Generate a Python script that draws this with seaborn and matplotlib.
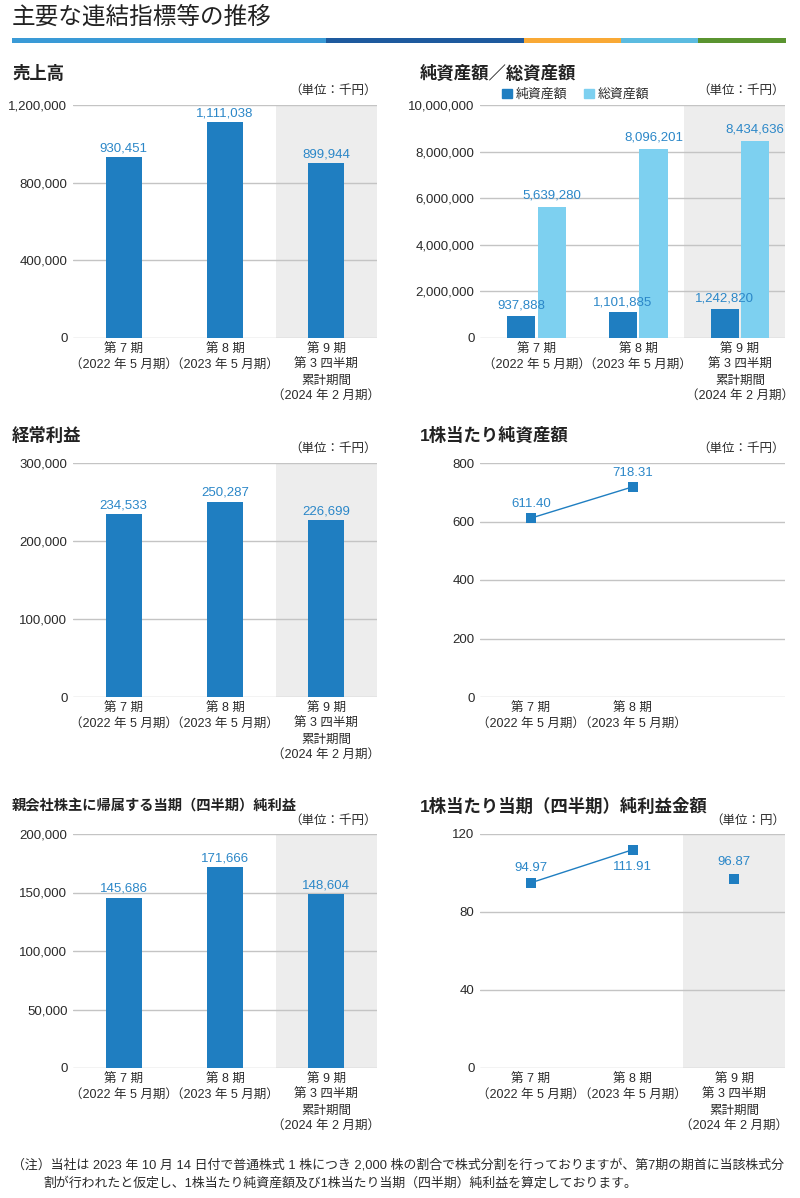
import numpy as np
import pandas as pd
import matplotlib
matplotlib.use('Agg')
import matplotlib.pyplot as plt
import seaborn as sns
from matplotlib.patches import Patch, Rectangle
from matplotlib.ticker import FuncFormatter

# ---------------- data ----------------
periods = ['第7期', '第8期', '第9期']
xlabels = ['第 7 期\n（2022 年 5 月期）',
           '第 8 期\n（2023 年 5 月期）',
           '第 9 期\n第 3 四半期\n累計期間\n（2024 年 2 月期）']
sales = [930451, 1111038, 899944]
net_assets = [937888, 1101885, 1242820]
total_assets = [5639280, 8096201, 8434636]
ordinary_profit = [234533, 250287, 226699]
net_income = [145686, 171666, 148604]
bps = [611.40, 718.31]
eps = [94.97, 111.91, 96.87]
eps_labels = ['94.97', '111.91', '96.87']
bps_labels = ['611.40', '718.31']

DARK = '#1f7ec1'
LIGHT = '#7dd0f0'
LABEL = '#2b87c8'
SHADE = '#ededed'
GRID = '#c4c4c4'
TXT = '#2a2a2a'

sns.set_theme(style='white')
plt.rcParams['font.family'] = ['Liberation Sans', 'Noto Sans CJK JP', 'DejaVu Sans']
plt.rcParams['axes.unicode_minus'] = False

W, H = 800, 1198
fig = plt.figure(figsize=(W / 100, H / 100), dpi=100)


def axes_px(l, t, r, b):
    return fig.add_axes([l / W, 1 - b / H, (r - l) / W, (b - t) / H])


def ftext(x, y, s, **kw):
    return fig.text(x / W, 1 - y / H, s, **kw)


def style(ax, ymax, step, xlim=(-0.5, 2.5), shade=None, comma=True, xt=(0, 1, 2)):
    ax.set_ylim(0, ymax)
    ax.set_xlim(*xlim)
    ax.set_yticks(np.arange(0, ymax + step / 2, step))
    if comma:
        ax.yaxis.set_major_formatter(FuncFormatter(lambda v, p: f'{int(v):,}'))
    else:
        ax.yaxis.set_major_formatter(FuncFormatter(lambda v, p: f'{int(v)}'))
    ax.set_xticks(list(xt))
    ax.set_xticklabels([xlabels[i] for i in xt], fontsize=9, color=TXT)
    for lab in ax.get_xticklabels():
        lab.set_linespacing(1.38)
    ax.tick_params(axis='y', labelsize=9.5, labelcolor=TXT, length=0, pad=4)
    ax.tick_params(axis='x', length=0, pad=4)
    for s in ax.spines.values():
        s.set_visible(False)
    ax.set_axisbelow(True)
    ax.yaxis.grid(True, color=GRID, linewidth=1)
    ax.xaxis.grid(False)
    ax.set_xlabel('')
    ax.set_ylabel('')
    ax.set_facecolor('none')
    if shade is not None:
        ax.axvspan(shade, xlim[1], color=SHADE, zorder=0, lw=0)


def bar_labels(ax, xs, vals, fmt='{:,}', off=2):
    for x, v in zip(xs, vals):
        ax.annotate(fmt.format(v), (x, v), xytext=(0, off), textcoords='offset points',
                    ha='center', va='bottom', fontsize=9.5, color=LABEL)


# ---------------- header ----------------
ftext(12, 18, '主要な連結指標等の推移', fontsize=17, va='center', ha='left', color='#222222')
segs = [(12, 326, '#3a9ad6'), (326, 524, '#1e5a9e'), (524, 621, '#f9a935'),
        (621, 698, '#5bbbe0'), (698, 786, '#5a9430')]
for x0, x1, c in segs:
    fig.add_artist(Rectangle((x0 / W, 1 - 43 / H), (x1 - x0) / W, 5 / H,
                             transform=fig.transFigure, color=c, lw=0))

# ---------------- panel 1: 売上高 ----------------
ax1 = axes_px(73, 105, 377, 338)
sns.barplot(x=periods, y=sales, ax=ax1, color=DARK, width=0.355, saturation=1, linewidth=0)
style(ax1, 1200000, 400000, shade=1.5)
bar_labels(ax1, range(3), sales)
ftext(12, 73, '売上高', fontsize=12.5, fontweight='bold', va='center', color='#222222')
ftext(377, 91, '（単位：千円）', fontsize=9, ha='right', va='center', color=TXT)

# ---------------- panel 2: 純資産額／総資産額 ----------------
ax2 = axes_px(480, 105, 785, 338)
df2 = pd.DataFrame({'期': periods * 2,
                    '種類': ['純資産額'] * 3 + ['総資産額'] * 3,
                    '値': net_assets + total_assets})
sns.barplot(data=df2, x='期', y='値', hue='種類', palette=[DARK, LIGHT], width=0.6,
            gap=0.08, saturation=1, ax=ax2, legend=False, linewidth=0)
style(ax2, 10000000, 2000000, xlim=(-0.556, 2.443), shade=1.45)
bar_labels(ax2, [i - 0.15 for i in range(3)], net_assets, off=3)
bar_labels(ax2, [i + 0.15 for i in range(3)], total_assets, off=4)
ftext(420, 73, '純資産額／総資産額', fontsize=12.5, fontweight='bold', va='center', color='#222222')
ftext(785, 91, '（単位：千円）', fontsize=9, ha='right', va='center', color=TXT)
leg = ax2.legend(handles=[Patch(color=DARK, label='純資産額'), Patch(color=LIGHT, label='総資産額')],
                 ncol=2, frameon=False, fontsize=9.3, handlelength=0.75, handleheight=0.75,
                 handletextpad=0.3, columnspacing=1.3, loc='center left',
                 bbox_to_anchor=(502 / W, 1 - 95 / H), bbox_transform=fig.transFigure,
                 borderaxespad=0, borderpad=0)
for t in leg.get_texts():
    t.set_color(TXT)

# ---------------- panel 3: 経常利益 ----------------
ax3 = axes_px(73, 463, 377, 697)
sns.barplot(x=periods, y=ordinary_profit, ax=ax3, color=DARK, width=0.355, saturation=1, linewidth=0)
style(ax3, 300000, 100000, shade=1.5)
bar_labels(ax3, range(3), ordinary_profit)
ftext(12, 435, '経常利益', fontsize=12.5, fontweight='bold', va='center', color='#222222')
ftext(377, 449, '（単位：千円）', fontsize=9, ha='right', va='center', color=TXT)

# ---------------- panel 4: 1株当たり純資産額 ----------------
ax4 = axes_px(480, 463, 785, 697)
sns.lineplot(x=[0, 1], y=bps, ax=ax4, color=DARK, linewidth=1, marker='s',
             markersize=7, markeredgewidth=0)
style(ax4, 800, 200, comma=False, xt=(0, 1))
for x, v, s in zip([0, 1], bps, bps_labels):
    ax4.annotate(s, (x, v), xytext=(0, 6), textcoords='offset points', ha='center',
                 va='bottom', fontsize=9.5, color=LABEL)
ftext(420, 435, '1株当たり純資産額', fontsize=12.5, fontweight='bold', va='center', color='#222222')
ftext(785, 449, '（単位：千円）', fontsize=9, ha='right', va='center', color=TXT)

# ---------------- panel 5: 親会社株主に帰属する当期（四半期）純利益 ----------------
ax5 = axes_px(73, 834, 377, 1068)
sns.barplot(x=periods, y=net_income, ax=ax5, color=DARK, width=0.355, saturation=1, linewidth=0)
style(ax5, 200000, 50000, shade=1.5)
bar_labels(ax5, range(3), net_income)
ftext(12, 806, '親会社株主に帰属する当期（四半期）純利益', fontsize=10.3, fontweight='bold',
      va='center', color='#222222')
ftext(377, 821, '（単位：千円）', fontsize=9, ha='right', va='center', color=TXT)

# ---------------- panel 6: 1株当たり当期（四半期）純利益金額 ----------------
ax6 = axes_px(480, 834, 785, 1068)
sns.lineplot(x=[0, 1], y=eps[:2], ax=ax6, color=DARK, linewidth=1, marker='s',
             markersize=7, markeredgewidth=0)
sns.scatterplot(x=[2], y=eps[2:], ax=ax6, color=DARK, marker='s', s=49, linewidth=0)
style(ax6, 120, 40, comma=False, shade=1.5)
offs = [(6, 'bottom'), (-8, 'top'), (8, 'bottom')]
for x, v, s, (o, va) in zip(range(3), eps, eps_labels, offs):
    ax6.annotate(s, (x, v), xytext=(0, o), textcoords='offset points', ha='center',
                 va=va, fontsize=9.5, color=LABEL)
ftext(420, 806, '1株当たり当期（四半期）純利益金額', fontsize=12.5, fontweight='bold',
      va='center', color='#222222')
ftext(785, 821, '（単位：円）', fontsize=9, ha='right', va='center', color=TXT)

# ---------------- note ----------------
ftext(12, 1165, '（注）当社は 2023 年 10 月 14 日付で普通株式 1 株につき 2,000 株の割合で株式分割を行っておりますが、第7期の期首に当該株式分',
      fontsize=9.3, va='center', color=TXT)
ftext(43, 1183, '割が行われたと仮定し、1株当たり純資産額及び1株当たり当期（四半期）純利益を算定しております。',
      fontsize=9.3, va='center', color=TXT)

fig.savefig('out.png', dpi=100)
